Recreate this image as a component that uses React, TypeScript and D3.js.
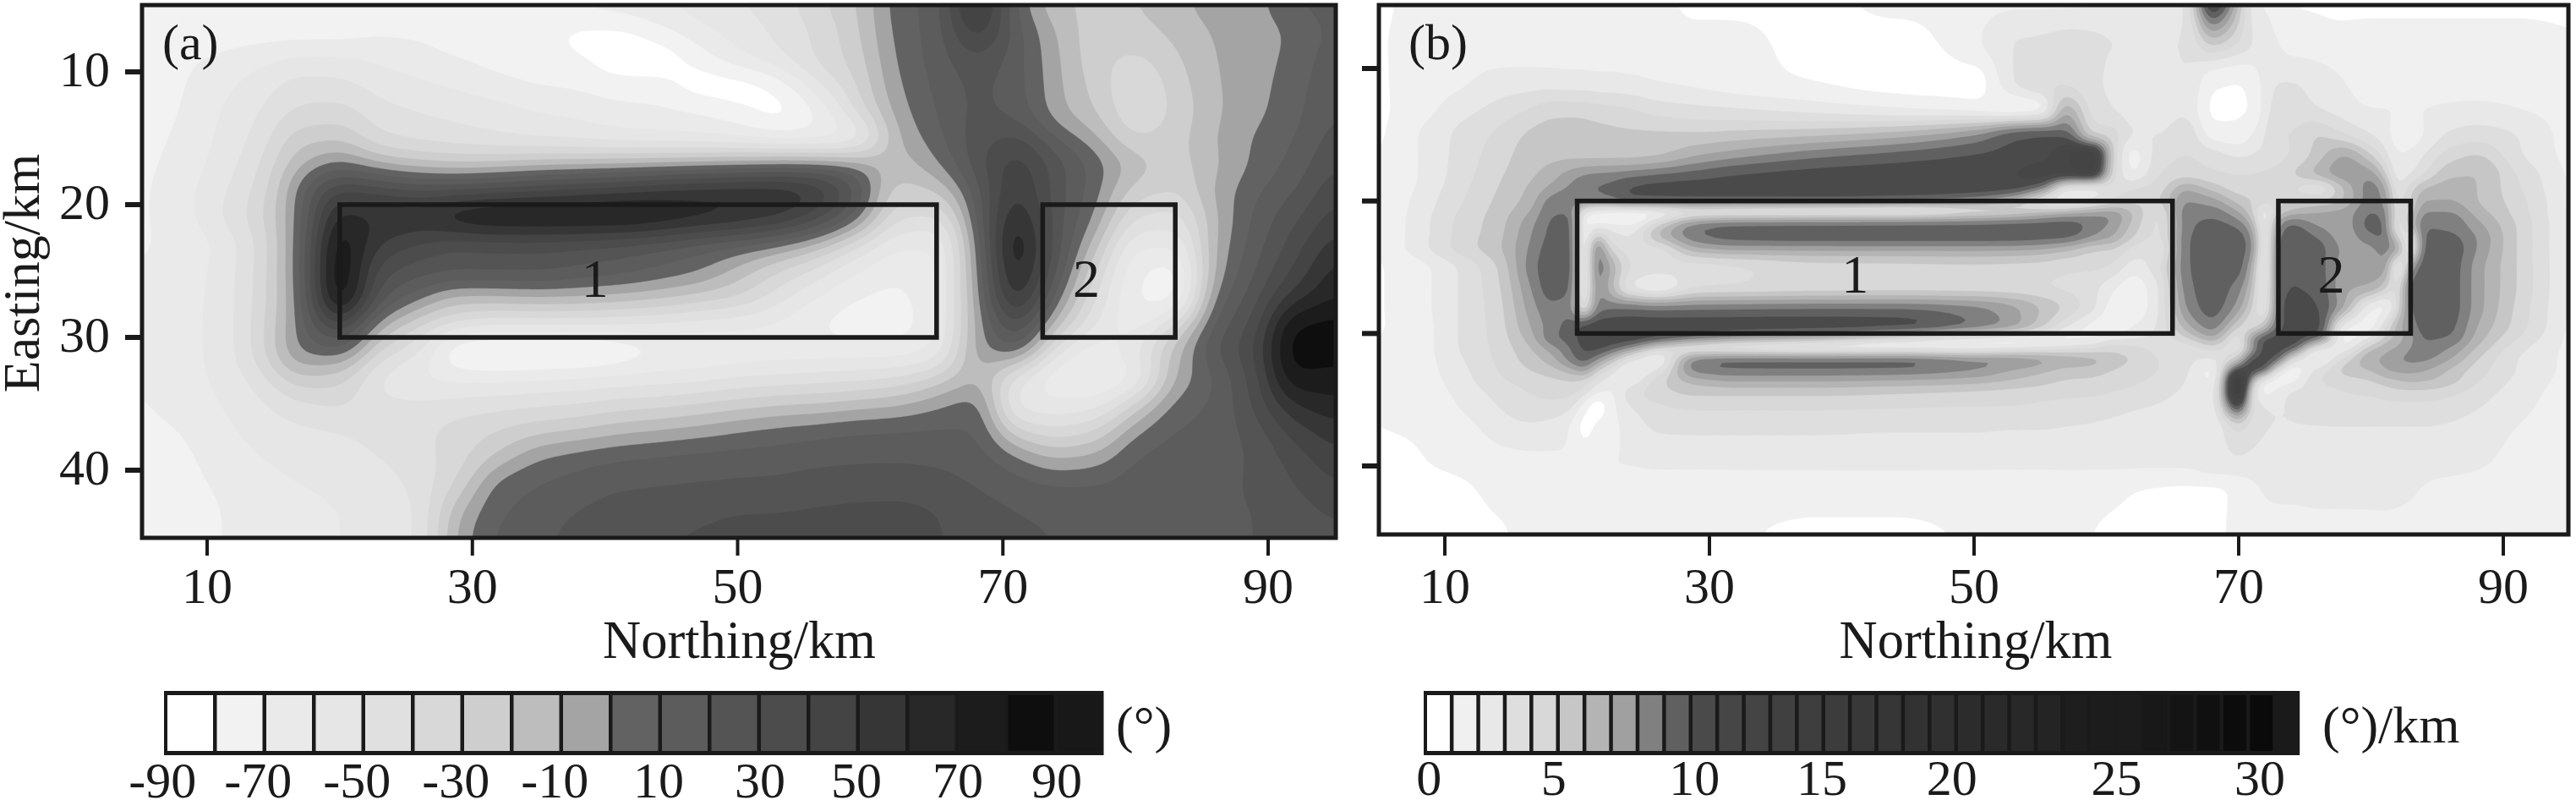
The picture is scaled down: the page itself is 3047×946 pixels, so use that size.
import React, { useMemo } from 'react';
import * as d3 from 'd3';

const WIDTH = 3047;
const HEIGHT = 946;
const INK = '#1a1a1a';
const FONT = '"Liberation Serif", "Times New Roman", serif';

const northingTicks = [10, 30, 50, 70, 90];
const eastingTicks = [10, 20, 30, 40];

// source bodies: Northing from/to, Easting from/to
const sourceBodies = [
  { label: '1', x0: 20, x1: 65, y0: 20, y1: 30 },
  { label: '2', x0: 73, x1: 83, y0: 20, y1: 30 },
];

// (a) tilt angle, degrees
const northingA = d3.range(5, 96, 3);
const eastingA = [5, 7, 9, 11, 13, 15, 17, 19, 21, 23, 25, 27, 29, 31, 33, 35, 37, 39, 41, 43, 45];
const tiltRows = [
  [-75,-75,-75,-75,-75,-75,-75,-75,-72,-68,-68,-66,-62,-60,-55,-50,-45,-32,-20,5,15,60,8,-18,-22,-20,-12,-6,-3,10,15],
  [-75,-75,-75,-75,-75,-75,-72,-72,-75,-75,-76,-83,-83,-74,-64,-56,-48,-38,-22,3,15,45,15,-10,-25,-24,-17,-9,-5,2,13],
  [-75,-72,-68,-63,-58,-58,-62,-66,-70,-74,-77,-79,-86,-87,-76,-62,-52,-38,-25,1,14,28,14,-8,-26,-32,-22,-10,-5,4,16],
  [-75,-71,-63,-55,-46,-47,-54,-58,-62,-66,-70,-72,-76,-76,-86,-87,-78,-52,-30,-2,12,22,14,-7,-24,-38,-26,-11,-4,6,18],
  [-75,-70,-60,-50,-38,-36,-46,-50,-53,-56,-60,-62,-66,-68,-70,-76,-84,-70,-38,-6,10,22,16,-6,-20,-38,-28,-12,-3,7,20],
  [-74,-68,-58,-46,-24,-22,-38,-43,-46,-49,-52,-54,-57,-58,-60,-62,-66,-68,-62,-12,6,25,32,10,-8,-30,-24,-10,1,10,25],
  [-73,-66,-56,-40,-12,3,-8,-15,-18,-16,-12,-10,-8,-6,-3,-1,2,4,-1,-15,-2,25,45,25,6,-14,-24,-12,2,14,30],
  [-72,-64,-52,-36,5,42,38,32,34,38,42,46,50,55,58,60,60,50,20,-25,-20,15,50,25,4,-25,-30,-8,8,20,38],
  [-72,-64,-50,-32,5,65,60,60,72,76,76,76,76,72,66,60,52,35,5,-38,-42,10,60,25,-2,-40,-45,-12,12,28,45],
  [-71,-68,-58,-38,8,78,50,38,30,32,32,30,27,22,15,9,1,-14,-38,-58,-60,2,70,25,-15,-58,-58,-10,15,35,55],
  [-70,-66,-56,-36,8,82,35,25,22,22,22,18,14,8,1,-14,-30,-44,-60,-68,-62,-2,65,20,-30,-68,-75,-8,20,42,65],
  [-70,-65,-56,-36,6,80,25,3,-14,-13,-11,-12,-14,-18,-24,-30,-45,-60,-70,-72,-62,-5,55,6,-40,-70,-76,2,26,55,70],
  [-70,-64,-56,-34,4,40,-5,-28,-42,-48,-48,-48,-50,-52,-55,-58,-62,-70,-74,-74,-62,-8,30,-14,-50,-66,-38,12,34,80,84],
  [-70,-64,-56,-34,2,8,-30,-50,-82,-86,-86,-86,-80,-72,-70,-68,-66,-66,-66,-66,-58,-6,8,-45,-66,-50,-15,20,40,86,84],
  [-70,-64,-58,-44,-22,-26,-52,-60,-64,-64,-62,-60,-58,-56,-54,-50,-48,-46,-44,-40,-28,-12,-45,-68,-72,-62,-10,10,35,78,76],
  [-71,-66,-60,-52,-42,-38,-48,-48,-46,-44,-42,-40,-36,-34,-30,-26,-22,-20,-16,-12,-3,5,-55,-58,-55,-28,3,12,32,60,68],
  [-73,-70,-63,-56,-52,-50,-46,-42,-36,-30,-24,-20,-14,-10,-6,-1,3,6,9,10,11,10,-28,-38,-30,-3,10,14,25,45,56],
  [-76,-72,-66,-60,-56,-54,-50,-44,-34,-18,-1,5,9,11,13,14,15,17,18,18,17,14,1,-11,-7,10,14,15,22,35,48],
  [-78,-74,-68,-64,-60,-58,-54,-46,-28,4,10,14,18,19,20,21,22,24,25,26,24,19,14,9,10,14,15,17,22,30,40],
  [-78,-76,-70,-66,-62,-60,-58,-48,-12,8,14,20,24,26,28,30,30,31,32,32,30,24,20,18,16,15,16,18,20,26,32],
  [-78,-76,-70,-66,-62,-60,-58,-48,-6,12,18,24,28,30,31,32,33,34,34,34,31,26,22,20,18,17,17,18,20,24,28],
];

// (b) gradient, legend units; grid is tighter around the narrow ridges
const northingB = [5,8,11,14,16.5,18,19.5,20.5,21.5,22.5,24,26,29,32,38,44,50,53,55,57,59,60.5,62,64,66,68,70,71,72,73,74,76,78,80,81,82,83,84,86,88,91,95];
const eastingB = [5,8,11,13,15,16.5,18,19,20,20.8,21.3,22,22.8,23.5,25,26.5,28,29.5,30.5,31,32,32.8,33.5,34.5,35.5,37,40,42,45];
const gradientRows = [
  [.5,1.5,1.5,1.5,1.5,1.5,1.5,1.5,1.5,1.5,1.5,1.5, .5,.5,.5,1.5,1.6,1.7,1.7,1.7, 1.8,1.9,2,2.2,3,12,6,2.5,1.8,1.5,1,.8,.5,.5,.5,.5,.5,.5,.5,.5,.5,.5],
  [.8,1.5,1.5,1.5,1.5,1.5,1.5,1.5,1.5,1.5,1.5,1.5, 1.5,1.4,.5,.5,1.8,3,3.2,3.4, 3.2,3,3,3,3,5.5,4,3,2.5,2,1.5,1.5,1.5,1.5,1.5,1.5,1.5,1.5,1.5,1.5,1.5,1.2],
  [.8,1.5,1.8,2.4,2.5,2.5,2.4,2.4,2.3,2.3,2.2,2, 1.8,1.5,1,.6,.5,3,4,3.8, 3.2,2.8,2.5,2.8,3,1.2,1,1.2,2.5,3,3,2.5,2,1.5,1.5,1.5,1.5,1.5,1.5,1.5,1.5,1.5],
  [.8,1.5,2.5,3.3,4,4.5,4.5,4.5,4.3,4.2,4,3.5, 3.2,3,2.5,2,1.5,1,1.5,6.5, 3.5,3,2.5,2.5,2.8,.8,.9,1,2.5,3.5,3.5,3,2.5,2,2,2,2,2,2.2,2.3,2,1.5],
  [.8,2,3.2,4.2,5.2,5.5,5.6,5.5,5.4,5.3,5.2,5.2, 5.2,5.4,5.8,6.5,8,9.7,10,9.5, 5,4.5,3,3,3.8,1.5,1.3,2,3,4,4,5,4,3,2.5,1.5,1.5,2,3.2,3.5,3,1.5],
  [1,2,3.3,4.5,5.5,5.7,5.7,5.6,5.6,5.6,5.6,5.8, 6.8,7.5,8.6,9.3,10,10.4,10.6,12, 13,5,1.5,3.5,4,3.5,2.8,3,3.3,3.8,4,5.5,7,5,3.5,2,2.2,3,4.5,5,3.2,1.6],
  [1,2,3.4,4.8,5.8,6.5,7.5,8,8.2,8.3,8.6,9, 9.5,10,10.4,10.6,10.8,11,11.5,11.5, 12,4.5,2,4,4.5,4.2,4,4,4.2,4.3,5,6.5,7.8,7.6,5.5,2.3,3,4,5.8,6,4,1.8],
  [1,2.1,3.6,5,6.2,7.2,8.2,8.8,9.1,9.3,10.1,10.4, 10.5,10.5,10.6,10.7,10.8,10.6,9,3, 2.5,3.5,4,4.5,6.8,5.5,4.5,4.5,4.5,5,4,3,6,8.5,7.5,3,4.5,6,6.5,6,4.2,1.8],
  [1,2.3,3.8,5.2,6.5,8.5,8.8,8.2,8.5,9,10,10, 10,10,10,9.5,8,6,3.5,2, 3,4,4.5,5,8,7.5,5.5,5,4.5,5,5,5,6,8.5,8,3.5,5,7,7,6,4.5,1.8],
  [1,2.4,4,5.4,7,8.8,8.5,3,1.5,1,.8,1.2, 2,1.5,1.2,1,3,4,5,6.2, 7,7.5,6,4,8.5,8.5,7,5,2,4.5,6,7,7.5,9,8.5,4,5,8,8,6.5,4.6,1.8],
  [1,2.5,4.2,5.5,7.5,9,9.5,1.5,1,.8,.7,2.5, 6,6.8,7,7.2,7.5,8,8.5,8.8, 8.8,8,6,3.8,8.6,9,7.8,6,2,7,8,7.5,7.5,9.3,9,3.5,6,8.5,8.5,7,4.8,1.8],
  [1,2.5,4.2,5.6,7.8,9.2,9.6,1.5,3,2.8,2.5,5.5, 9,9.6,9.7,9.7,9.7,9.7,9.7,9.7, 8.5,7.5,5.5,3.8,8.5,9.5,9,7,2,8,9.5,8,7.5,9.5,9.2,3,5.5,9,8.8,7.5,5,1.8],
  [1,2.5,4.3,5.7,8,9.3,9.7,1.2,6,3.5,3,6, 8.7,9.5,9.7,9.7,9.7,9.7,9.6,9.3, 8,7,5,3.8,8.8,9.6,9.5,8.3,1.8,9,10,9,7.5,8.5,9.3,5,2.5,9.3,9.3,8,5,1.8],
  [1,2.6,4.4,5.8,8.2,9.5,9.8,1,8.8,4.5,3.5,3.5, 7,7.6,7.6,7.6,7.6,7.5,7.2,6.5, 5.2,5,3.8,3,8.8,9.7,9.5,8.5,1.5,9.5,10,9.5,7.8,7.8,8.5,7.5,1.8,9.5,9.7,8,5,1.8],
  [.9,1.6,3,5,8.5,9.7,9.8,1.2,9,7,4,3.5, 3.5,3.8,4.5,4.6,4.7,4.6,4.5,4.2, 4.2,3.8,2.5,3.8,8.8,9.6,9.5,7,1.5,9.8,10,9.5,7.5,7.3,8,1.8,7,9.8,9.6,7.5,5,1.8],
  [.9,1.6,3,4.8,8,9.6,9.3,1.5,8.3,6.5,3,1.8, 3.8,4,4.3,4.4,4.3,4.2,4,3.8, 3.3,2.2,1.4,3,8.5,9.6,8.5,6,2,9.5,10,9.7,7.2,7,5.5,3.5,9.5,10,9.6,7.5,5,1.8],
  [.9,1.6,3,4.6,7.5,8.8,8.5,3,8.5,8.7,8.8,8.5, 8.6,8.7,8.8,8.8,8.2,7.2,6,4.8, 3.3,1.5,1.3,3,8,9.5,7.5,5,2.5,9.5,10.5,10,7,2,1.6,4,9,10,9.6,7.5,4.8,1.8],
  [.9,1.5,3,4.5,7,8.5,9.5,10.5,10.7,10.7,10.7,10.7, 10.7,10.7,10.7,10.6,9,7.5,5.5,3, 1.6,1.2,2,3.2,6.5,8.5,5,4,6,9.5,10.5,10.5,2,1.5,3.5,6.5,8,9.7,9.3,7,4.6,1.8],
  [1,1.5,3,4.4,6.5,8.8,9.5,10.5,10.7,10.7,10.7,10, 8.5,7,5.5,3,1.5,1,1.2,1.5, 2,3,3,3.5,4.5,6.5,3,8.5,10.5,10.6,10.6,9,1.5,3.5,5.5,6.5,7.5,9,8.8,6.5,4,1.7],
  [1,1.5,3,4.3,6,7.5,9,10.3,10.5,10,8.5,5, 2,1.5,.8,1.2,1.5,2,2.5,3, 3.5,4.5,4.3,3.5,3.3,4.5,3,7,10.5,10.6,10.5,3,2,5.5,6.5,7,8,8.8,8,6,3.5,1.7],
  [1,1.5,2.8,4.2,5.5,6.5,8.5,9.5,8,6,3,1.8, 8.8,9.6,9.7,9.7,8.6,8.3,7.7,7, 6.5,5.5,5,4,3.3,2.8,6,10.5,10.5,9.5,3.5,1.5,4.5,7,7.2,8,8.3,8.2,7,5,3,1.7],
  [1,1.5,2.6,4,5,5.5,6.5,7.5,5,3.5,1.8,3, 8.5,8.9,8.9,8.8,8,6.8,6.2,5.5, 5.5,5,4.5,4,3.2,1.6,11,11,10,2.5,1.3,3.5,5.5,6,7,7.3,7.3,7,5.7,4.5,3,1.7],
  [1,1.4,2.5,3.8,4.5,4.8,5,4.8,3.5,2.5,2.2,4.5, 6.5,7.2,7.2,7,6.6,6,5.5,5, 4.8,4.3,4.2,3.7,3,1.8,15,7,1.5,1.3,1.5,4,4.5,5,5.5,6,6.3,6.2,5.5,4.2,2.8,1.6],
  [1,1.3,2.2,3.3,4,4.2,4.3,3.5,2,1.8,3.6,4.5, 5.2,5.2,5.2,5,4.7,4.5,4.4,4.2, 4.2,4,3.8,3.3,2.8,2.3,15,4,1.5,2.5,3.3,3.5,4,4.2,4.4,4.6,4.6,4.6,4.2,3.5,2.5,1.5],
  [1,1.2,2,3,3.8,3.8,3.3,1.5,.2,1.5,3,3.8, 4.2,4.2,4.2,4.1,4,4,3.8,3.7, 3.5,3.3,3.1,2.9,2.6,2.4,11,4,3,3,3,3.1,3.4,3.5,3.6,3.7,3.7,3.7,3.5,3.1,2.3,1.5],
  [1,1.1,1.6,2.4,2.8,2.6,2,.5,1.2,1.7,2.3,3.2, 3.3,3.3,3.3,3.2,3.2,3.1,3.1,3, 2.9,2.8,2.7,2.5,2.3,2.2,4.5,3.5,3,3,3,3,3,3,3,3,3,3,2.9,2.6,2,1.5],
  [.6,.9,1.2,1.6,1.7,1.8,1.9,1.9,1.9,2,2,2.1, 2.1,2.1,2.1,2.1,2.1,2.1,2.1,2.1, 2.1,2.1,2.1,2.1,2.1,2.4,2.6,2.6,2.6,2.6,2.6,2.6,2.6,2.5,2.4,2.3,2.3,2.3,2.3,2.1,1.7,1.5],
  [.5,.5,.7,1.3,1.5,1.7,1.8,1.8,1.8,1.8,1.6,1.5, 1.5,1.5,1.5,1.5,1.5,1.5,1.5,1.5, 1.4,1.3,1,.8,.7,.7,1.3,1.6,2.1,2.2,2.2,2.3,2.3,2.3,2.3,2.2,2.1,1.9,1.6,1.5,1.5,1.5],
  [.5,.5,.5,.8,1.4,1.5,1.5,1.5,1.5,1.5,1.5,1.5, 1.5,1.2,.7,.7,1.2,1.5,1.5,1.3, 1,.7,.6,.6,.5,.6,1.4,1.5,1.5,1.5,1.5,1.5,1.5,1.5,1.5,1.5,1.5,1.5,1.5,1.5,1.5,1.5],
];

// legend (a): lower edge of each cell, with its grey
const tiltEdges = d3.range(-90, 100, 10);
const tiltGreys = ['#ffffff','#f2f2f2','#eaeaea','#e6e6e6','#e0e0e0','#d8d8d8','#cecece','#bdbdbd','#a4a4a4','#626262','#5c5c5c','#545454','#4c4c4c','#444444','#363636','#282828','#1c1c1c','#0e0e0e','#181818'];
const tiltTicks = [-90, -70, -50, -30, -10, 10, 30, 50, 70, 90];
const tiltTickCells = [-0.03, 1.9, 3.9, 5.9, 7.9, 10, 12.05, 14, 16.05, 18.05];

// legend (b): one cell per step; labels sit unevenly along the bar
const gradientEdges = d3.range(0, 33);
const gradientGreys = ['#ffffff','#f0f0f0','#e8e8e8','#dedede','#d8d8d8','#c6c6c6','#b4b4b4','#a0a0a0','#808080','#606060','#4a4a4a','#464646','#444444','#404040','#3e3e3e','#3c3c3c','#383838','#363636','#323232','#303030','#2c2c2c','#2a2a2a','#282828','#242424','#1e1e1e','#1c1c1c','#1c1c1c','#181818','#141414','#101010','#0c0c0c','#0a0a0a','#1a1a1a'];
const gradientTicks = [0, 5, 10, 15, 20, 25, 30];
const gradientTickCells = [0.2, 4.9, 10.2, 15, 19.9, 26.1, 31.5];

// monotone cubic through irregular samples, keeps ridges from overshooting
function monotone(xs: number[], ys: number[]) {
  const n = xs.length;
  const d = d3.range(n - 1).map(i => (ys[i + 1] - ys[i]) / (xs[i + 1] - xs[i]));
  const m = xs.map((_, i) => {
    if (i === 0) return d[0];
    if (i === n - 1) return d[n - 2];
    return d[i - 1] * d[i] <= 0 ? 0 : (2 * d[i - 1] * d[i]) / (d[i - 1] + d[i]);
  });
  const find = d3.bisector((v: number) => v).right;
  return (x: number) => {
    const i = Math.max(0, Math.min(n - 2, find(xs, x) - 1));
    const h = xs[i + 1] - xs[i];
    const t = (x - xs[i]) / h;
    const t2 = t * t;
    const t3 = t2 * t;
    return (2 * t3 - 3 * t2 + 1) * ys[i] + (t3 - 2 * t2 + t) * h * m[i] + (-2 * t3 + 3 * t2) * ys[i + 1] + (t3 - t2) * h * m[i + 1];
  };
}

// resample the read-off table on a fine regular mesh for d3.contours
function fineMesh(xs: number[], ysAxis: number[], rows: number[][], step: number, blur: number) {
  const qx = d3.range(d3.min(xs)!, d3.max(xs)! + step / 2, step);
  const qy = d3.range(d3.min(ysAxis)!, d3.max(ysAxis)! + step / 2, step);
  const byRow = rows.map(r => qx.map(monotone(xs, r)));
  const values = new Float64Array(qx.length * qy.length);
  qx.forEach((_, i) => {
    const col = monotone(ysAxis, byRow.map(r => r[i]));
    qy.forEach((y, j) => {
      values[j * qx.length + i] = col(y);
    });
  });
  d3.blur2({ data: values, width: qx.length, height: qy.length }, blur);
  return { values, nx: qx.length, ny: qy.length, x0: qx[0], y0: qy[0] };
}

function ContourField({ xs, ysAxis, rows, edges, greys, x, y, blur }: any) {
  const paths = useMemo(() => {
    const step = 0.25;
    const { values, nx, ny, x0, y0 } = fineMesh(xs, ysAxis, rows, step, blur);
    const bands = d3.contours().size([nx, ny]).thresholds(edges.slice(1))(values as any);
    const project = d3.geoTransform({
      point(cx: number, cy: number) {
        this.stream.point(x(x0 + (cx - 0.5) * step), y(y0 + (cy - 0.5) * step));
      },
    });
    const path = d3.geoPath(project);
    return bands.map((b: any, i: number) => ({ d: path(b) || '', fill: greys[i + 1] }));
  }, [xs, ysAxis, rows, edges, greys, x, y, blur]);

  return (
    <g>
      <rect x={x.range()[0] - 90} y={0} width={1500} height={660} fill={greys[0]} />
      {paths.map((p: any, i: number) => (
        <path key={i} d={p.d} fill={p.fill} stroke={p.fill} strokeWidth={0.4} />
      ))}
    </g>
  );
}

function Panel({ id, tag, xs, ysAxis, rows, edges, greys, x, y, frame, showY, tagX, labelAt, blur }: any) {
  return (
    <g fontFamily={FONT} fill={INK}>
      <clipPath id={id}>
        <rect x={frame.left} y={frame.top} width={frame.right - frame.left} height={frame.bottom - frame.top} />
      </clipPath>
      <g clipPath={`url(#${id})`}>
        <ContourField xs={xs} ysAxis={ysAxis} rows={rows} edges={edges} greys={greys} x={x} y={y} blur={blur} />
      </g>

      {sourceBodies.map((b, i) => (
        <g key={b.label}>
          <rect x={x(b.x0)} y={y(b.y0)} width={x(b.x1) - x(b.x0)} height={y(b.y1) - y(b.y0)} fill="none" stroke={INK} strokeWidth={5.5} />
          <text x={x(labelAt[i])} y={y(25) + 30} fontSize={64} textAnchor="middle">{b.label}</text>
        </g>
      ))}

      <rect x={frame.left} y={frame.top} width={frame.right - frame.left} height={frame.bottom - frame.top} fill="none" stroke={INK} strokeWidth={5} />

      {northingTicks.map(t => (
        <g key={t}>
          <line x1={x(t)} x2={x(t)} y1={frame.bottom} y2={657} stroke={INK} strokeWidth={4} />
          <text x={x(t)} y={713} fontSize={60} textAnchor="middle">{t}</text>
        </g>
      ))}
      <text x={x(50) + 2} y={778} fontSize={62.5} textAnchor="middle">Northing/km</text>

      {eastingTicks.map(t => (
        <g key={t}>
          <line x1={frame.left - 20} x2={frame.left} y1={y(t)} y2={y(t)} stroke={INK} strokeWidth={6} />
          {showY && <text x={frame.left - 38} y={y(t) + 17} fontSize={60} textAnchor="end">{t}</text>}
        </g>
      ))}
      {showY && <text transform={`translate(46,323) rotate(-90)`} fontSize={62} textAnchor="middle">Easting/km</text>}

      <text x={tagX} y={70} fontSize={60}>{tag}</text>
    </g>
  );
}

function Legend({ edges, greys, ticks, tickCells, left, pitch, unit, unitX, tickY }: any) {
  const cell = d3.scaleLinear().domain([0, edges.length]).range([left, left + pitch * edges.length]);
  const top = 817;
  const h = 76;
  return (
    <g fontFamily={FONT} fill={INK}>
      <rect x={left} y={top} width={pitch * edges.length} height={h} fill={INK} />
      {edges.map((e: number, i: number) => (
        <rect key={e} x={cell(i) + 4} y={top + 5} width={pitch - 4.5} height={h - 10} fill={greys[i]} />
      ))}
      {ticks.map((t: number, i: number) => (
        <text key={t} x={cell(tickCells[i])} y={tickY} fontSize={60} textAnchor="middle">{t}</text>
      ))}
      <text x={unitX} y={878} fontSize={62}>{unit}</text>
    </g>
  );
}

export default function App() {
  const frameA = { left: 168, right: 1580, top: 6, bottom: 636 };
  const frameB = { left: 1631, right: 3038, top: 6, bottom: 632 };

  const xA = d3.scaleLinear().domain([10, 90]).range([245, 1500]);
  const yA = d3.scaleLinear().domain([10, 40]).range([85, 556]);
  const xB = d3.scaleLinear().domain([10, 90]).range([1709, 2961]);
  const yB = d3.scaleLinear().domain([10, 40]).range([81, 551]);

  return (
    <svg width={WIDTH} height={HEIGHT} viewBox={`0 0 ${WIDTH} ${HEIGHT}`} style={{ position: 'absolute', left: 0, top: 0, background: '#fff' }}>
      <Panel id="clip-a" tag="(a)" xs={northingA} ysAxis={eastingA} rows={tiltRows} edges={tiltEdges} greys={tiltGreys} x={xA} y={yA} frame={frameA} showY tagX={192} labelAt={[39.25, 76.3]} blur={3} />
      <Panel id="clip-b" tag="(b)" xs={northingB} ysAxis={eastingB} rows={gradientRows} edges={gradientEdges} greys={gradientGreys} x={xB} y={yB} frame={frameB} showY={false} tagX={1666} labelAt={[41, 77]} blur={1} />
      <Legend edges={tiltEdges} greys={tiltGreys} ticks={tiltTicks} tickCells={tiltTickCells} left={194} pitch={58.5} unit="(°)" unitX={1320} tickY={943} />
      <Legend edges={gradientEdges} greys={gradientGreys} ticks={gradientTicks} tickCells={gradientTickCells} left={1684} pitch={31.4} unit="(°)/km" unitX={2747} tickY={940} />
    </svg>
  );
}
